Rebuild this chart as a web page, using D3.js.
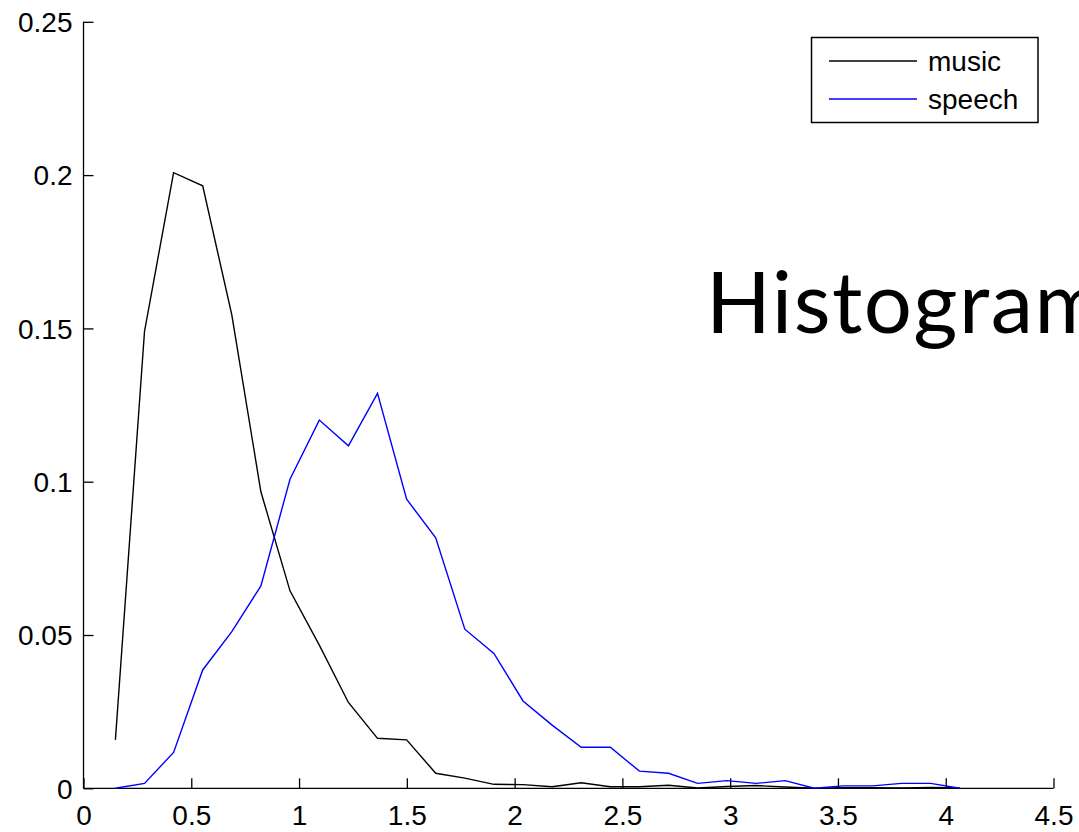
<!DOCTYPE html>
<html>
<head>
<meta charset="utf-8">
<script src="https://cdn.jsdelivr.net/npm/d3@7"></script>
<style>
    body { margin: 0; background: #fff; }
    #chart { width: 1079px; height: 832px; overflow: hidden; }
    text { font-family: "Liberation Sans", Arial, sans-serif; }
</style>
</head>
<body>
<div id="chart"></div>
<script>

// bin centres (x) shared by both histograms
let binCenters = [0.148, 0.283, 0.418, 0.553, 0.688, 0.823, 0.958, 1.094, 1.229, 1.364,
    1.499, 1.634, 1.769, 1.904, 2.039, 2.174, 2.309, 2.444, 2.579, 2.714,
    2.849, 2.985, 3.120, 3.255, 3.390, 3.525, 3.660, 3.795, 3.930, 4.065];

let musicValues = [0.0158, 0.149, 0.2008, 0.1965, 0.1544, 0.0967, 0.0644, 0.0467, 0.028, 0.0163,
    0.0158, 0.0049, 0.0033, 0.0013, 0.0012, 0.0005, 0.0018, 0.0005, 0.0005, 0.001,
    0.0001, 0.0006, 0.0009, 0.0004, 0.0, 0.0002, 0.0002, 0.0001, 0.0003, 0.0001];

let speechValues = [0.0, 0.0016, 0.0117, 0.0386, 0.0511, 0.066, 0.1008, 0.1201, 0.1117, 0.1288,
    0.0943, 0.0817, 0.0519, 0.044, 0.0285, 0.0206, 0.0134, 0.0134, 0.0056, 0.0049,
    0.0016, 0.0025, 0.0016, 0.0025, 0.0, 0.0008, 0.0008, 0.0016, 0.0016, 0.0];

let seriesNames = ['music', 'speech'];
let seriesColors = ['#000000', '#0000ff'];

let xTicks = [0, 0.5, 1, 1.5, 2, 2.5, 3, 3.5, 4, 4.5];
let yTicks = [0, 0.05, 0.1, 0.15, 0.2, 0.25];

let titleText = 'Histogram';

class HistLineVis {

    constructor(parentElement) {
        this.parentElement = parentElement;
        this.displayData = [];
        this.initVis();
    }

    initVis() {
        let vis = this;

        vis.width = 1079;
        vis.height = 832;
        // plot box in page pixels
        vis.margin = {top: 21.8, left: 83.5, right: 1053.5, bottom: 788.3};

        vis.svg = d3.select("#" + vis.parentElement).append("svg")
            .attr("width", vis.width)
            .attr("height", vis.height);

        vis.x = d3.scaleLinear()
            .domain([0, 4.5])
            .range([vis.margin.left, vis.margin.right]);

        vis.y = d3.scaleLinear()
            .domain([0, 0.25])
            .range([vis.margin.bottom, vis.margin.top]);

        // ticks point inward, like matlab
        vis.xAxis = d3.axisTop(vis.x)
            .tickValues(xTicks)
            .tickSize(10)
            .tickFormat(d3.format('~g'));

        vis.yAxis = d3.axisRight(vis.y)
            .tickValues(yTicks)
            .tickSize(10)
            .tickFormat(d => d === 0 ? '0' : d3.format('~g')(d));

        vis.line = d3.line()
            .x(d => vis.x(d.x))
            .y(d => vis.y(d.y));

        vis.wrangleData();
    }

    wrangleData() {
        let vis = this;

        vis.displayData = [musicValues, speechValues].map((vals, i) => {
            return {
                name: seriesNames[i],
                color: seriesColors[i],
                values: vals.map((v, j) => ({x: binCenters[j], y: v}))
            };
        });

        vis.updateVis();
    }

    updateVis() {
        let vis = this;

        // == AXES == //
        let gx = vis.svg.append('g')
            .attr('class', 'x-axis')
            .attr('transform', `translate(0, ${vis.margin.bottom})`)
            .call(vis.xAxis);
        gx.select('.domain').attr('d', `M${vis.margin.left},0H${vis.margin.right}`);
        gx.selectAll('text')
            .attr('y', 37)
            .attr('dy', 0)
            .attr('font-size', '28px')
            .attr('fill', '#000');

        let gy = vis.svg.append('g')
            .attr('class', 'y-axis')
            .attr('transform', `translate(${vis.margin.left}, 0)`)
            .call(vis.yAxis);
        gy.select('.domain').attr('d', `M0,${vis.margin.top}V${vis.margin.bottom}`);
        gy.selectAll('text')
            .attr('x', -11)
            .attr('dy', '0.35em')
            .attr('text-anchor', 'end')
            .attr('font-size', '28px')
            .attr('fill', '#000');

        vis.svg.selectAll('.domain, .tick line')
            .attr('stroke', '#000')
            .attr('stroke-width', 1.3);

        // == LINES == //
        vis.svg.selectAll('.series')
            .data(vis.displayData)
            .enter()
            .append('path')
            .attr('class', 'series')
            .attr('fill', 'none')
            .attr('stroke', d => d.color)
            .attr('stroke-width', 1.4)
            .attr('d', d => vis.line(d.values));

        // == LEGEND == //
        let legend = vis.svg.append('g').attr('class', 'legend');
        legend.append('rect')
            .attr('x', 811.5)
            .attr('y', 37.5)
            .attr('width', 226.5)
            .attr('height', 85)
            .attr('fill', '#fff')
            .attr('stroke', '#000')
            .attr('stroke-width', 1.5);

        let items = legend.selectAll('.legend-item')
            .data(vis.displayData)
            .enter()
            .append('g')
            .attr('class', 'legend-item')
            .attr('transform', (d, i) => `translate(0, ${61 + i * 38})`);

        items.append('line')
            .attr('x1', 829)
            .attr('x2', 917)
            .attr('stroke', d => d.color)
            .attr('stroke-width', 1.4);

        items.append('text')
            .attr('x', 928)
            .attr('dy', '0.35em')
            .attr('font-size', '28px')
            .attr('fill', '#000')
            .text(d => d.name);

        // big slide title, runs off the right edge like in the slide
        vis.svg.append('text')
            .attr('x', 706)
            .attr('y', 333)
            .style('font-family', 'Lato, "Open Sans", sans-serif')
            .style('letter-spacing', '1.5px')
            .attr('font-size', '85px')
            .attr('fill', '#000')
            .text(titleText);
    }
}

new HistLineVis('chart');

</script>
</body>
</html>
